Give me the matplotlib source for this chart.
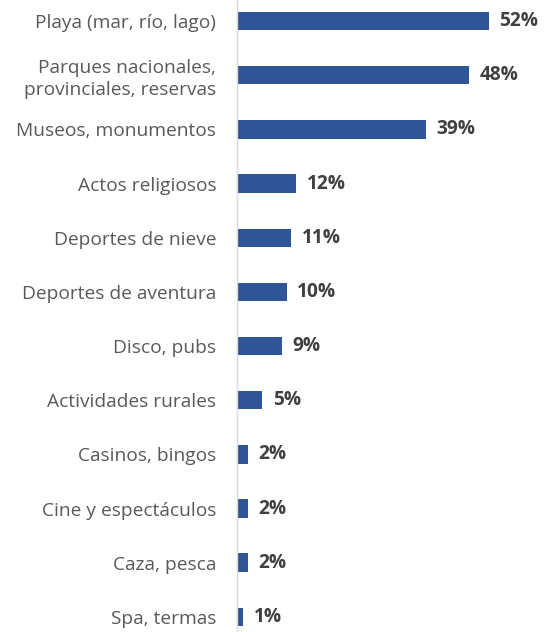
import matplotlib
matplotlib.use("Agg")
import matplotlib.pyplot as plt

categories = [
    "Playa (mar, río, lago)",
    "Parques nacionales,\nprovinciales, reservas",
    "Museos, monumentos",
    "Actos religiosos",
    "Deportes de nieve",
    "Deportes de aventura",
    "Disco, pubs",
    "Actividades rurales",
    "Casinos, bingos",
    "Cine y espectáculos",
    "Caza, pesca",
    "Spa, termas",
]
values = [52, 48, 39, 12, 11, 10, 9, 5, 2, 2, 2, 1]

bar_color = "#2F5597"
label_color = "#595959"
value_color = "#404040"

fig = plt.figure(figsize=(5.46, 6.32), dpi=100)
ax = fig.add_axes([0.434, 0.0, 0.566, 1.0])

y = list(range(len(categories)))
ax.barh(y, values, height=0.34, color=bar_color, left=0.3)

for yi, v in zip(y, values):
    ax.text(v + 0.3 + 2.2, yi, f"{v}%", va="center", ha="left",
            fontsize=13.8, fontweight="bold", color=value_color, family="Open Sans")

ax.set_yticks(y)
ax.set_yticklabels(categories, fontsize=13.8, color=label_color, family="Open Sans",
                   linespacing=1.25)
ax.tick_params(axis="y", length=0, pad=15)
ax.set_xticks([])
ax.set_xlim(0, 64.2)
ax.set_ylim(11.28, -0.39)

for side in ["top", "right", "bottom"]:
    ax.spines[side].set_visible(False)
ax.spines["left"].set_color("#D9D9D9")
ax.spines["left"].set_linewidth(1.0)

fig.savefig("out.png", dpi=100)
